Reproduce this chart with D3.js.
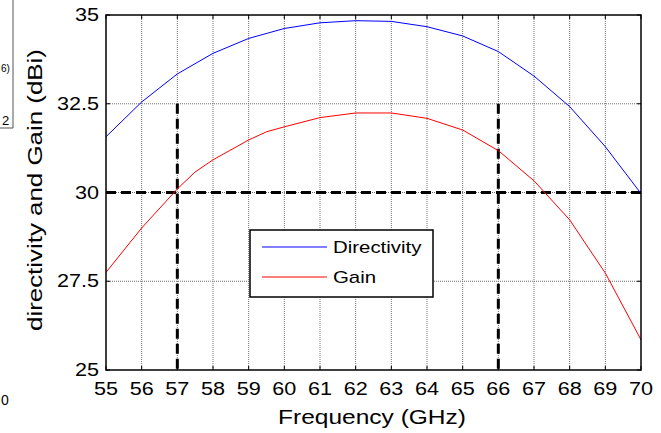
<!DOCTYPE html>
<html><head><meta charset="utf-8">
<script src="https://cdn.jsdelivr.net/npm/d3@7"></script>
<style>body{margin:0;background:#fff}svg{display:block;font-family:"Liberation Sans",Arial,sans-serif}</style>
</head><body><svg id="c" width="661" height="433"></svg>
<script>
const freqD = [55,56,57,58,59,60,61,62,63,64,65,66,67,68,69,70];
const directivity = [31.57,32.55,33.34,33.92,34.34,34.62,34.78,34.84,34.82,34.67,34.41,33.97,33.28,32.42,31.29,29.97];
const freqG = [55,56,57,57.5,58,59,59.5,60,61,62,63,64,65,66,67,68,69,70];
const gain = [27.75,29.0,30.1,30.58,30.92,31.48,31.71,31.85,32.11,32.24,32.24,32.09,31.76,31.18,30.33,29.23,27.73,25.85];
const xTicks = [55,56,57,58,59,60,61,62,63,64,65,66,67,68,69,70];
const yTicks = [25,27.5,30,32.5,35];
const yTickLabels = ["25","27.5","30","32.5","35"];
const refLevel = [30];
const markFreqs = [57,66];
const seriesNames = ["Directivity","Gain"];
const seriesColors = ["#0000ff","#ff0000"];

const svg = d3.select("#c");
const L=106,R=641,T=15,B=370;
const x = d3.scaleLinear().domain([55,70]).range([L,R]);
const y = d3.scaleLinear().domain([25,35]).range([B,T]);

// grid
const g = svg.append("g");
g.selectAll(".vg").data(xTicks.slice(1,-1)).join("line")
 .attr("x1",d=>x(d)).attr("x2",d=>x(d)).attr("y1",T).attr("y2",B)
 .attr("stroke","#707070").attr("stroke-width",1).attr("stroke-dasharray","1,1");
g.selectAll(".hg").data(yTicks.slice(1,-1)).join("line")
 .attr("y1",d=>y(d)).attr("y2",d=>y(d)).attr("x1",L).attr("x2",R)
 .attr("stroke","#707070").attr("stroke-width",1).attr("stroke-dasharray","1,1");

// dashed reference lines
svg.selectAll(".hr").data(refLevel).join("line")
 .attr("x1",x(55)).attr("x2",x(70)).attr("y1",d=>y(d)).attr("y2",d=>y(d))
 .attr("stroke","#000").attr("stroke-width",3).attr("stroke-dasharray","10,5");
svg.selectAll(".vr").data(markFreqs).join("line")
 .attr("x1",d=>x(d)).attr("x2",d=>x(d)).attr("y1",y(32.5)).attr("y2",y(25))
 .attr("stroke","#000").attr("stroke-width",3).attr("stroke-dasharray","10,5");

// curves
const line = d3.line().x(d=>x(d[0])).y(d=>y(d[1]));
svg.append("path").datum(freqD.map((f,i)=>[f,directivity[i]]))
 .attr("d",line).attr("fill","none").attr("stroke",seriesColors[0]).attr("stroke-width",1);
svg.append("path").datum(freqG.map((f,i)=>[f,gain[i]]))
 .attr("d",line).attr("fill","none").attr("stroke",seriesColors[1]).attr("stroke-width",1);

// axes (box + inner ticks)
const tl=4;
const ax = svg.append("g").attr("stroke","#000").attr("stroke-width",1);
xTicks.forEach(v=>{
  ax.append("line").attr("x1",x(v)).attr("x2",x(v)).attr("y1",B).attr("y2",B-tl);
  ax.append("line").attr("x1",x(v)).attr("x2",x(v)).attr("y1",T).attr("y2",T+tl);
});
yTicks.forEach(v=>{
  ax.append("line").attr("y1",y(v)).attr("y2",y(v)).attr("x1",L).attr("x2",L+tl);
  ax.append("line").attr("y1",y(v)).attr("y2",y(v)).attr("x1",R).attr("x2",R-tl);
});
svg.append("rect").attr("x",L).attr("y",T).attr("width",R-L).attr("height",B-T)
 .attr("fill","none").attr("stroke","#000").attr("stroke-width",1.5);

// tick labels
const stretch = 1.2;
function stretchText(sel){ sel.each(function(){ const w=this.getComputedTextLength(); d3.select(this).attr("textLength",w*stretch).attr("lengthAdjust","spacingAndGlyphs");}); }
svg.selectAll(".xl").data(xTicks).join("text")
 .attr("x",d=>x(d)).attr("y",395).attr("text-anchor","middle").attr("font-size",18).text(d=>d).call(stretchText);
svg.selectAll(".yl").data(yTicks).join("text")
 .attr("x",99).attr("y",d=>y(d)+6).attr("text-anchor","end").attr("font-size",18).text((d,i)=>yTickLabels[i]).call(stretchText);

// axis titles
svg.append("text").attr("x",372).attr("y",424).attr("text-anchor","middle").attr("font-size",21)
 .attr("textLength",188).attr("lengthAdjust","spacingAndGlyphs").text("Frequency (GHz)");
svg.append("text").attr("transform","translate(42,190) rotate(-90)").attr("text-anchor","middle").attr("font-size",21)
 .attr("textLength",282).attr("lengthAdjust","spacingAndGlyphs").text("directivity and Gain (dBi)");

// legend
const lg = svg.append("g");
lg.append("rect").attr("x",250).attr("y",230).attr("width",183).attr("height",67)
 .attr("fill","#fff").attr("stroke","#000").attr("stroke-width",1.5);
seriesNames.forEach((n,i)=>{
  const yy = 247 + i*30;
  lg.append("line").attr("x1",262).attr("x2",327).attr("y1",yy).attr("y2",yy).attr("stroke",seriesColors[i]).attr("stroke-width",1);
  lg.append("text").attr("x",333).attr("y",yy+6).attr("font-size",17).text(n).call(stretchText);
});

// remnants at left edge (from neighbouring figure)
const rem = svg.append("g");
rem.append("path").attr("d","M13,0V128H0").attr("fill","none").attr("stroke","#555").attr("stroke-width",1);
rem.append("text").attr("x",1).attr("y",72).attr("font-size",10).text("6)");
rem.append("text").attr("x",2).attr("y",125).attr("font-size",13).text("2");
rem.append("text").attr("x",1).attr("y",405).attr("font-size",14).text("0");
</script></body></html>
